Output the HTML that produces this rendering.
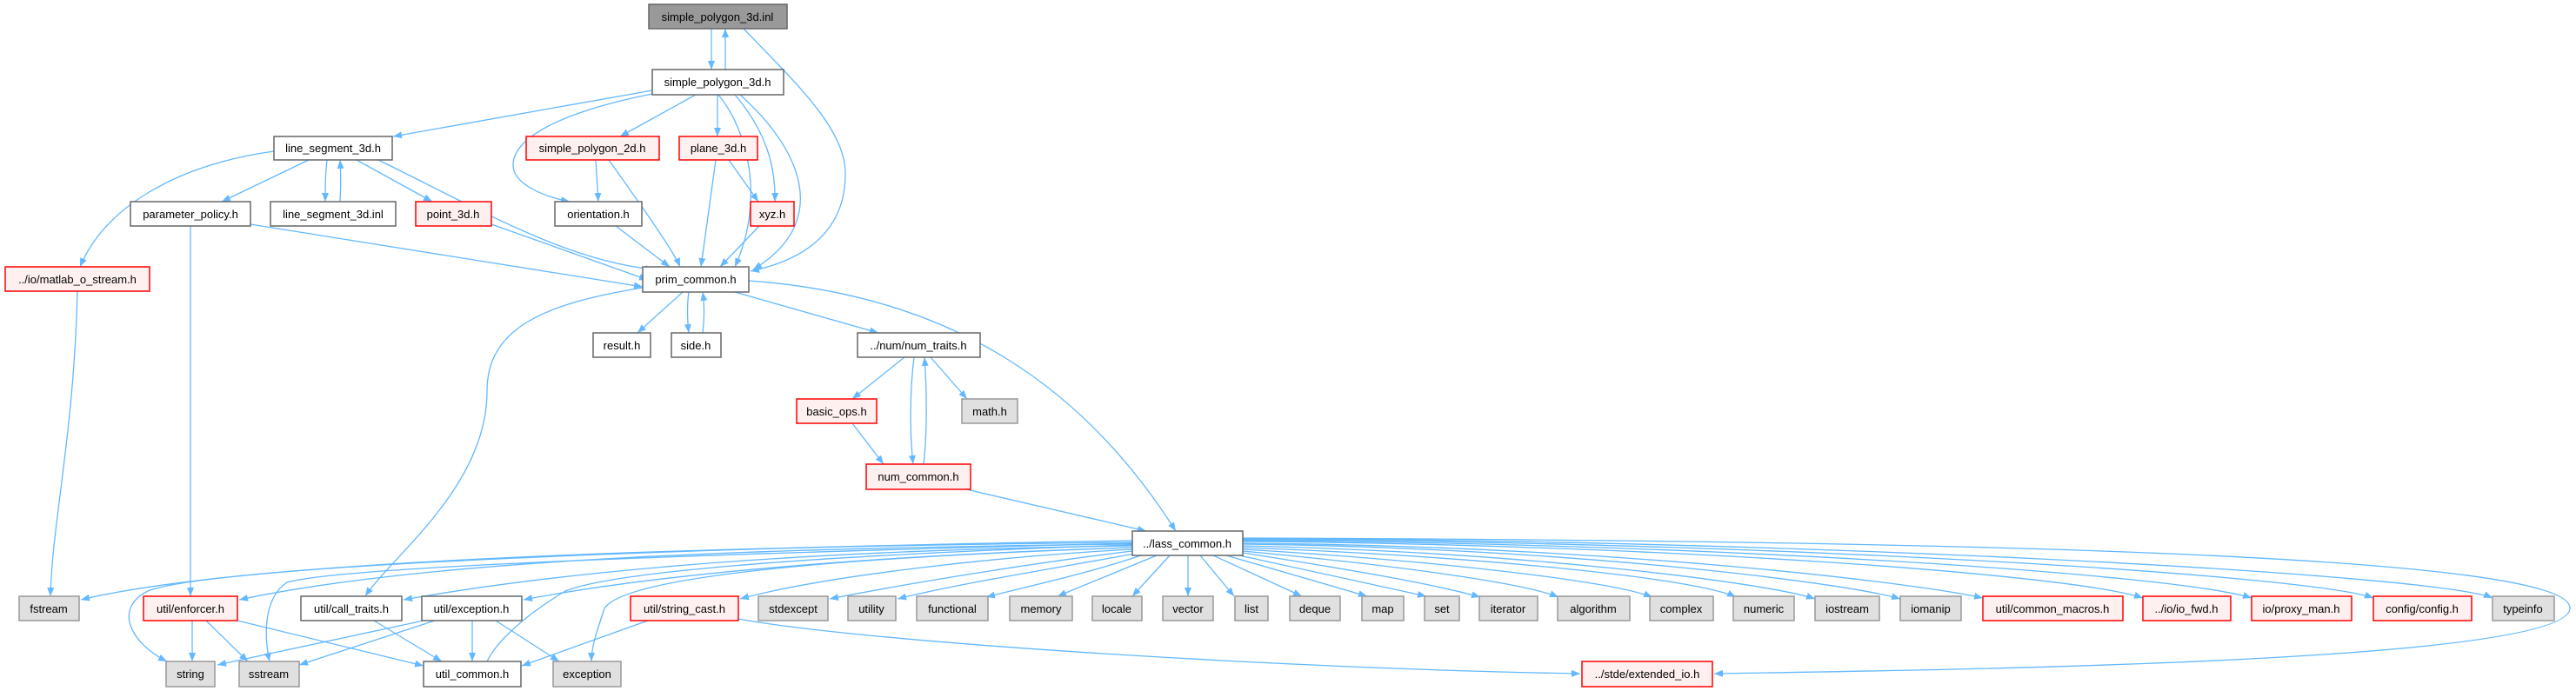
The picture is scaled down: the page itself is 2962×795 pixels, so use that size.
<!DOCTYPE html>
<html><head><meta charset="utf-8"><style>
html,body{margin:0;padding:0;background:#fff;}
svg{display:block;}
text{font-family:"Liberation Sans",sans-serif;font-size:13px;fill:#000;text-anchor:middle;}
.e{fill:none;stroke:#63b8ff;stroke-width:1.3;marker-end:url(#a);}
.n{fill:none;stroke:#63b8ff;stroke-width:1.3;}
.w{fill:#fff;stroke:#666;stroke-width:1.5;}
.g{fill:#e0e0e0;stroke:#999;stroke-width:1.5;}
.r{fill:#fff0f0;stroke:#f00;stroke-width:1.5;}
.k{fill:#999;stroke:#666;stroke-width:1.5;}
</style></head><body>
<svg width="2962" height="795" viewBox="0 0 2962 795" xmlns="http://www.w3.org/2000/svg">
<defs><marker id="a" markerWidth="10" markerHeight="8" refX="10" refY="4" orient="auto" markerUnits="userSpaceOnUse"><path d="M0,0 L10,4 L0,8 z" fill="#63b8ff"/></marker></defs>

<!-- top edges -->
<path class="e" d="M818,33 L818,80"/>
<path class="e" d="M834,80 L834,33"/>
<path class="e" d="M855,33 C920,100 972,150 972,200 C972,270 920,300 863,312"/>
<path class="e" d="M750,104 L452,157"/>
<path class="e" d="M750,108 C640,130 590,160 590,190 C590,210 620,225 655,232"/>
<path class="e" d="M800,109 L713,157"/>
<path class="e" d="M825,109 L825,157"/>
<path class="e" d="M845,109 C880,150 892,190 891,232"/>
<path class="e" d="M851,109 C930,180 950,260 866,310"/>
<path class="e" d="M826,109 C860,150 880,230 845,307"/>
<path class="e" d="M315,174 C200,190 120,240 92,307"/>
<path class="e" d="M355,184 L255,232"/>
<path class="e" d="M376,184 C374,200 374,215 374,232"/>
<path class="e" d="M391,232 C392,215 392,200 391,184"/>
<path class="e" d="M410,184 L497,232"/>
<path class="e" d="M435,184 C550,240 650,300 752,310"/>
<path class="e" d="M685,184 L688,232"/>
<path class="e" d="M700,184 C740,240 775,290 782,307"/>
<path class="e" d="M838,184 L872,232"/>
<path class="e" d="M823,184 L806,307"/>
<path class="e" d="M288,258 L739,330"/>
<path class="e" d="M565,258 L745,322"/>
<path class="e" d="M708,260 L770,307"/>
<path class="e" d="M873,260 L828,307"/>

<!-- middle edges -->
<path class="e" d="M785,336 L733,383"/>
<path class="e" d="M792,336 C790,350 790,365 792,383"/>
<path class="e" d="M808,383 C810,365 810,350 808,336"/>
<path class="e" d="M845,336 L1010,383"/>
<path class="e" d="M861,323 C1100,340 1250,450 1352,611"/>
<path class="e" d="M739,331 C620,350 560,380 560,450 C560,560 450,640 420,686"/>
<path class="e" d="M1040,411 L980,459"/>
<path class="e" d="M1070,411 L1112,459"/>
<path class="e" d="M1051,411 C1046,450 1046,500 1050,534"/>
<path class="e" d="M1062,534 C1066,500 1066,450 1063,411"/>
<path class="e" d="M980,487 L1016,534"/>
<path class="e" d="M1111,563 L1318,611"/>
<path class="e" d="M89,335 C85,500 60,600 58,686"/>
<path class="e" d="M219,260 L219,686"/>

<!-- lass_common fan -->
<path class="e" d="M1302,624 C900,628 300,640 93,690"/>
<path class="e" d="M1302,626 C900,630 500,642 275,690"/>
<path class="e" d="M1302,628 C1000,632 700,648 464,690"/>
<path class="e" d="M1302,630 C1100,636 800,652 602,690"/>
<path class="e" d="M1302,632 C1150,640 950,662 851,689"/>
<path class="e" d="M1302,634 C1200,646 1050,670 954,689"/>
<path class="e" d="M1305,637 C1200,656 1100,672 1032,689"/>
<path class="e" d="M1312,639 C1250,660 1180,675 1134,687"/>
<path class="e" d="M1330,639 L1216,686"/>
<path class="e" d="M1345,639 L1302,686"/>
<path class="e" d="M1366,639 L1366,686"/>
<path class="e" d="M1380,639 L1419,686"/>
<path class="e" d="M1395,639 L1497,686"/>
<path class="e" d="M1410,639 L1572,686"/>
<path class="e" d="M1425,639 L1640,686"/>
<path class="e" d="M1429,636 C1550,655 1650,672 1702,687"/>
<path class="e" d="M1429,634 C1600,650 1750,670 1792,687"/>
<path class="e" d="M1429,632 C1650,645 1850,668 1900,687"/>
<path class="e" d="M1429,630 C1700,640 1950,665 1996,687"/>
<path class="e" d="M1429,628 C1750,635 2030,670 2087,689"/>
<path class="e" d="M1429,626 C1800,630 2120,670 2185,689"/>
<path class="e" d="M1429,625 C1850,628 2200,670 2280,688"/>
<path class="e" d="M1429,623 C1900,626 2380,660 2464,688"/>
<path class="e" d="M1429,622 C1950,624 2500,660 2589,688"/>
<path class="e" d="M1429,621 C2000,622 2650,660 2729,688"/>
<path class="e" d="M1429,620 C2050,620 2800,660 2866,688"/>
<path class="e" d="M1429,619 C2300,622 2958,640 2955,700 C2952,760 2300,770 1971,775"/>
<path class="e" d="M1302,622 C800,630 250,650 170,680 C130,700 150,740 192,761"/>
<path class="e" d="M1302,625 C900,635 400,650 330,670 C300,690 305,740 310,761"/>
<path class="n" d="M1302,627 C900,640 700,660 650,680 C600,710 570,740 560,761"/>
<path class="e" d="M1302,630 C1000,640 720,660 695,700 C685,730 680,745 680,761"/>

<!-- bottom edges -->
<path class="e" d="M221,714 L221,761"/>
<path class="e" d="M237,714 L285,761"/>
<path class="e" d="M273,714 L487,766"/>
<path class="e" d="M430,714 L508,761"/>
<path class="e" d="M487,714 L250,765"/>
<path class="e" d="M500,714 L344,765"/>
<path class="e" d="M543,714 L543,761"/>
<path class="e" d="M570,714 L643,761"/>
<path class="e" d="M745,714 L600,766"/>
<path class="e" d="M849,712 C1000,740 1500,770 1817,775"/>

<!-- nodes -->
<rect class="k" x="746" y="5" width="159" height="28"/><text x="825" y="24">simple_polygon_3d.inl</text>
<rect class="w" x="750" y="80" width="151" height="29"/><text x="825" y="99">simple_polygon_3d.h</text>
<rect class="w" x="315" y="157" width="136" height="27"/><text x="383" y="175">line_segment_3d.h</text>
<rect class="r" x="605" y="157" width="153" height="27"/><text x="681" y="175">simple_polygon_2d.h</text>
<rect class="r" x="781" y="157" width="90" height="27"/><text x="826" y="175">plane_3d.h</text>
<rect class="w" x="150" y="232" width="138" height="28"/><text x="219" y="251">parameter_policy.h</text>
<rect class="w" x="311" y="232" width="144" height="28"/><text x="383" y="251">line_segment_3d.inl</text>
<rect class="r" x="478" y="232" width="87" height="28"/><text x="521" y="251">point_3d.h</text>
<rect class="w" x="638" y="232" width="100" height="28"/><text x="688" y="251">orientation.h</text>
<rect class="r" x="863" y="232" width="50" height="28"/><text x="888" y="251">xyz.h</text>
<rect class="w" x="739" y="307" width="122" height="29"/><text x="800" y="326">prim_common.h</text>
<rect class="r" x="6" y="307" width="166" height="28"/><text x="89" y="326">../io/matlab_o_stream.h</text>
<rect class="w" x="682" y="383" width="66" height="28"/><text x="715" y="402">result.h</text>
<rect class="w" x="772" y="383" width="57" height="28"/><text x="800" y="402">side.h</text>
<rect class="w" x="986" y="383" width="141" height="28"/><text x="1056" y="402">../num/num_traits.h</text>
<rect class="r" x="916" y="459" width="92" height="28"/><text x="962" y="478">basic_ops.h</text>
<rect class="g" x="1106" y="459" width="64" height="28"/><text x="1138" y="478">math.h</text>
<rect class="r" x="996" y="534" width="120" height="29"/><text x="1056" y="553">num_common.h</text>
<rect class="w" x="1302" y="611" width="127" height="28"/><text x="1365" y="630">../lass_common.h</text>

<rect class="g" x="22" y="686" width="69" height="28"/><text x="56" y="705">fstream</text>
<rect class="r" x="165" y="686" width="108" height="28"/><text x="219" y="705">util/enforcer.h</text>
<rect class="w" x="346" y="686" width="116" height="28"/><text x="404" y="705">util/call_traits.h</text>
<rect class="w" x="485" y="686" width="115" height="28"/><text x="542" y="705">util/exception.h</text>
<rect class="r" x="725" y="686" width="124" height="28"/><text x="787" y="705">util/string_cast.h</text>
<rect class="g" x="872" y="686" width="80" height="28"/><text x="912" y="705">stdexcept</text>
<rect class="g" x="975" y="686" width="55" height="28"/><text x="1002" y="705">utility</text>
<rect class="g" x="1054" y="686" width="82" height="28"/><text x="1095" y="705">functional</text>
<rect class="g" x="1161" y="686" width="72" height="28"/><text x="1197" y="705">memory</text>
<rect class="g" x="1256" y="686" width="57" height="28"/><text x="1284" y="705">locale</text>
<rect class="g" x="1337" y="686" width="58" height="28"/><text x="1366" y="705">vector</text>
<rect class="g" x="1420" y="686" width="38" height="28"/><text x="1439" y="705">list</text>
<rect class="g" x="1483" y="686" width="58" height="28"/><text x="1512" y="705">deque</text>
<rect class="g" x="1566" y="686" width="48" height="28"/><text x="1590" y="705">map</text>
<rect class="g" x="1638" y="686" width="40" height="28"/><text x="1658" y="705">set</text>
<rect class="g" x="1701" y="686" width="67" height="28"/><text x="1734" y="705">iterator</text>
<rect class="g" x="1791" y="686" width="83" height="28"/><text x="1832" y="705">algorithm</text>
<rect class="g" x="1897" y="686" width="73" height="28"/><text x="1933" y="705">complex</text>
<rect class="g" x="1993" y="686" width="70" height="28"/><text x="2028" y="705">numeric</text>
<rect class="g" x="2087" y="686" width="74" height="28"/><text x="2124" y="705">iostream</text>
<rect class="g" x="2185" y="686" width="70" height="28"/><text x="2220" y="705">iomanip</text>
<rect class="r" x="2280" y="686" width="161" height="28"/><text x="2360" y="705">util/common_macros.h</text>
<rect class="r" x="2464" y="686" width="101" height="28"/><text x="2514" y="705">../io/io_fwd.h</text>
<rect class="r" x="2589" y="686" width="115" height="28"/><text x="2646" y="705">io/proxy_man.h</text>
<rect class="r" x="2729" y="686" width="113" height="28"/><text x="2785" y="705">config/config.h</text>
<rect class="g" x="2866" y="686" width="71" height="28"/><text x="2901" y="705">typeinfo</text>

<rect class="g" x="191" y="761" width="56" height="29"/><text x="219" y="780">string</text>
<rect class="g" x="275" y="761" width="69" height="29"/><text x="309" y="780">sstream</text>
<rect class="w" x="487" y="761" width="112" height="29"/><text x="543" y="780">util_common.h</text>
<rect class="g" x="636" y="761" width="78" height="29"/><text x="675" y="780">exception</text>
<rect class="r" x="1819" y="761" width="150" height="29"/><text x="1894" y="780">../stde/extended_io.h</text>
</svg>
</body></html>
